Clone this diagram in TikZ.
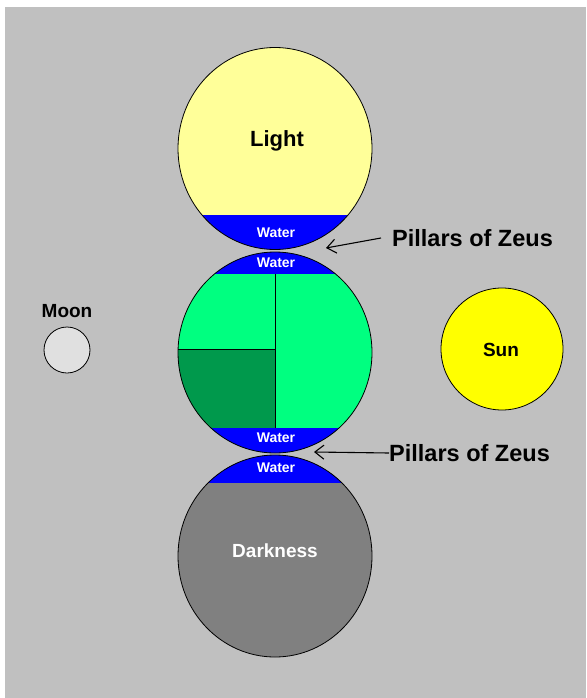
\documentclass[tikz,border=0pt]{standalone}
\usepackage{fontspec}
\setmainfont{Liberation Sans}
\usetikzlibrary{arrows.meta}
\definecolor{bg}{RGB}{192,192,192}
\definecolor{lightyel}{RGB}{255,255,153}
\definecolor{wblue}{RGB}{0,0,255}
\definecolor{egreen}{RGB}{0,255,128}
\definecolor{dgreen}{RGB}{0,153,76}
\definecolor{dark}{RGB}{128,128,128}
\definecolor{sunyel}{RGB}{255,255,0}
\definecolor{moong}{RGB}{224,224,224}
\tikzset{
  outline/.style={draw=black,line width=0.8pt},
  waterlbl/.style={text=white,font=\bfseries\fontsize{14}{14}\selectfont,inner sep=0pt},
  biglbl/.style={font=\bfseries\fontsize{22}{22}\selectfont,inner sep=0pt},
  pzlbl/.style={font=\bfseries\fontsize{23.5}{23.5}\selectfont,inner sep=0pt},
  midlbl/.style={font=\bfseries\fontsize{19}{19}\selectfont,inner sep=0pt},
  pillar/.style={draw=black,line width=1.1pt,-{Straight Barb[length=9pt,width=14pt,line width=1.1pt]}}
}
\begin{document}
\begin{tikzpicture}[x=1pt,y=-1pt]
\useasboundingbox (0,0) rectangle (586,698);
\fill[white] (0,0) rectangle (586,698);
\fill[bg] (5,7) rectangle (586,698);
% Light sphere
\fill[lightyel] (275,148.5) ellipse [x radius=97,y radius=101];
\begin{scope}
\clip (275,148.5) ellipse [x radius=97,y radius=101];
\fill[wblue] (150,215) rectangle (400,260);
\end{scope}
\draw[outline] (275,148.5) ellipse [x radius=97,y radius=101];
% Earth sphere
\fill[egreen] (275,352.5) ellipse [x radius=97,y radius=100.5];
\begin{scope}
\clip (275,352.5) ellipse [x radius=97,y radius=100.5];
\fill[dgreen] (150,349) rectangle (275,428);
\fill[wblue] (150,240) rectangle (400,274);
\fill[wblue] (150,428) rectangle (400,460);
\draw[black,line width=0.8pt] (150,349) -- (275,349);
\draw[black,line width=0.8pt] (275,274) -- (275,428);
\end{scope}
\draw[outline] (275,352.5) ellipse [x radius=97,y radius=100.5];
% Darkness sphere
\fill[dark] (275,556) ellipse [x radius=97,y radius=101];
\begin{scope}
\clip (275,556) ellipse [x radius=97,y radius=101];
\fill[wblue] (150,450) rectangle (400,483);
\end{scope}
\draw[outline] (275,556) ellipse [x radius=97,y radius=101];
% Moon and Sun
\node[outline,fill=moong,circle,minimum size=46pt,inner sep=0pt] (moon) at (67,350) {};
\node[midlbl] (moonlbl) at (67,311) {Moon};
\node[outline,fill=sunyel,circle,minimum size=122pt,inner sep=0pt] (sun) at (502,349) {};
\node[midlbl] (sunlbl) at (501,350) {Sun};
% Labels
\node[biglbl] (light) at (277,141) {Light};
\node[midlbl,text=white] (darkness) at (275,551) {Darkness};
\node[waterlbl] (w1) at (276,233) {Water};
\node[waterlbl] (w2) at (276,263) {Water};
\node[waterlbl] (w3) at (276,438) {Water};
\node[waterlbl] (w4) at (276,468) {Water};
% Pillars of Zeus
\node[pzlbl,anchor=west] (p1) at (392,238) {Pillars of Zeus};
\node[pzlbl,anchor=west] (p2) at (389,453) {Pillars of Zeus};
\coordinate (t1) at (326,248);
\coordinate (t2) at (314,452);
\coordinate (s1) at (381,238);
\draw[pillar] (s1) -- (t1);
\draw[pillar] (p2.west) -- (t2);
\end{tikzpicture}
\end{document}
